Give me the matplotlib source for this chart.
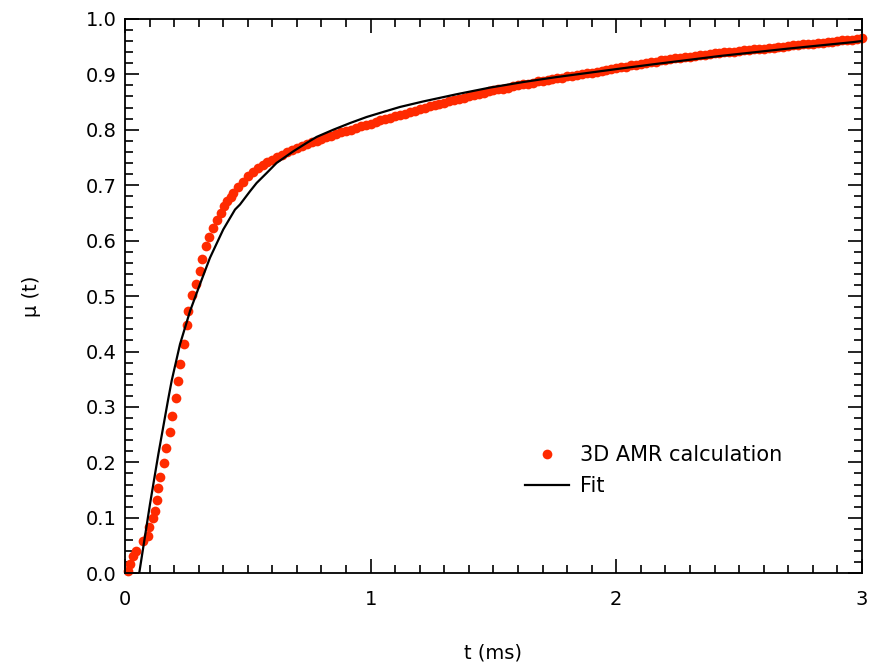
# mu(t) curve: 3D AMR calculation vs. fit

import numpy as np
import matplotlib
matplotlib.use("Agg")
import matplotlib.pyplot as plt
from matplotlib.ticker import MultipleLocator

# -------------------------------
# 1. Data
# -------------------------------
t_amr = [
    0.013, 0.020, 0.034, 0.043, 0.072, 0.092, 0.099, 0.113, 0.122, 0.129,
    0.136, 0.142, 0.160, 0.167, 0.183, 0.190, 0.206, 0.214, 0.224, 0.240,
    0.254, 0.258, 0.274, 0.288, 0.305, 0.312, 0.328, 0.343, 0.360, 0.373,
    0.389, 0.403, 0.416, 0.430,
    0.44, 0.46, 0.48, 0.50, 0.52, 0.54, 0.56, 0.58, 0.60, 0.62,
    0.64, 0.66, 0.68, 0.70, 0.72, 0.74, 0.76, 0.78, 0.80, 0.82,
    0.84, 0.86, 0.88, 0.90, 0.92, 0.94, 0.96, 0.98, 1.00, 1.02,
    1.04, 1.06, 1.08, 1.10, 1.12, 1.14, 1.16, 1.18, 1.20, 1.22,
    1.24, 1.26, 1.28, 1.30, 1.32, 1.34, 1.36, 1.38, 1.40, 1.42,
    1.44, 1.46, 1.48, 1.50, 1.52, 1.54, 1.56, 1.58, 1.60, 1.62,
    1.64, 1.66, 1.68, 1.70, 1.72, 1.74, 1.76, 1.78, 1.80, 1.82,
    1.84, 1.86, 1.88, 1.90, 1.92, 1.94, 1.96, 1.98, 2.00, 2.02,
    2.04, 2.06, 2.08, 2.10, 2.12, 2.14, 2.16, 2.18, 2.20, 2.22,
    2.24, 2.26, 2.28, 2.30, 2.32, 2.34, 2.36, 2.38, 2.40, 2.42,
    2.44, 2.46, 2.48, 2.50, 2.52, 2.54, 2.56, 2.58, 2.60, 2.62,
    2.64, 2.66, 2.68, 2.70, 2.72, 2.74, 2.76, 2.78, 2.80, 2.82,
    2.84, 2.86, 2.88, 2.90, 2.92, 2.94, 2.96, 2.98, 3.00,
]
mu_amr = [
    0.004, 0.016, 0.032, 0.041, 0.059, 0.068, 0.083, 0.100, 0.113, 0.133,
    0.153, 0.174, 0.198, 0.226, 0.255, 0.283, 0.317, 0.347, 0.378, 0.413,
    0.447, 0.473, 0.502, 0.521, 0.546, 0.566, 0.590, 0.606, 0.623, 0.638,
    0.650, 0.662, 0.671, 0.679,
    0.686, 0.697, 0.706, 0.716, 0.724, 0.731, 0.737, 0.742, 0.746, 0.751,
    0.755, 0.759, 0.763, 0.767, 0.771, 0.774, 0.777, 0.780, 0.783, 0.786,
    0.789, 0.792, 0.795, 0.797, 0.800, 0.803, 0.806, 0.809, 0.811, 0.814,
    0.817, 0.819, 0.821, 0.824, 0.826, 0.829, 0.832, 0.834, 0.837, 0.839,
    0.842, 0.844, 0.847, 0.849, 0.852, 0.854, 0.856, 0.858, 0.861, 0.863,
    0.865, 0.867, 0.869, 0.871, 0.873, 0.874, 0.876, 0.878, 0.880, 0.882,
    0.883, 0.885, 0.887, 0.888, 0.890, 0.891, 0.893, 0.894, 0.896, 0.897,
    0.899, 0.900, 0.902, 0.903, 0.905, 0.906, 0.908, 0.909, 0.911, 0.913,
    0.914, 0.916, 0.917, 0.919, 0.920, 0.922, 0.923, 0.925, 0.926, 0.927,
    0.929, 0.930, 0.931, 0.932, 0.933, 0.934, 0.935, 0.937, 0.938, 0.939,
    0.940, 0.940, 0.941, 0.942, 0.943, 0.944, 0.945, 0.946, 0.946, 0.947,
    0.948, 0.949, 0.950, 0.951, 0.952, 0.953, 0.954, 0.955, 0.955, 0.956,
    0.957, 0.958, 0.959, 0.960, 0.961, 0.961, 0.962, 0.963, 0.965,
]

t_fit = [0.058, 0.102, 0.136, 0.176, 0.190, 0.224, 0.265, 0.305, 0.346, 0.400,
         0.448, 0.468, 0.509, 0.536, 0.577, 0.617, 0.685, 0.739, 0.780, 0.848,
         0.916, 0.984, 1.051, 1.119, 1.214, 1.350, 1.486, 1.621, 1.757, 1.893,
         2.028, 2.150, 2.422, 2.693, 2.964, 3.000]
mu_fit = [0.000, 0.125, 0.215, 0.314, 0.347, 0.413, 0.473, 0.521, 0.569, 0.620,
          0.656, 0.665, 0.689, 0.704, 0.722, 0.740, 0.761, 0.776, 0.787, 0.800,
          0.812, 0.823, 0.832, 0.841, 0.851, 0.864, 0.876, 0.886, 0.895, 0.903,
          0.911, 0.918, 0.933, 0.946, 0.958, 0.960]

RED = "#ff2a00"

# -------------------------------
# 2. Plot
# -------------------------------
plt.rcParams["font.family"] = ["DejaVu Sans"]

fig = plt.figure(figsize=(8.72, 6.68), dpi=100)
ax = fig.add_axes([0.1433, 0.1418, 0.8452, 0.8300])

ax.plot(t_amr, mu_amr, "o", color=RED, markersize=7, markeredgewidth=0,
        label="3D AMR calculation", zorder=2, clip_on=False)
ax.plot(t_fit, mu_fit, "-", color="black", linewidth=1.6, label="Fit", zorder=3)

ax.set_xlim(0, 3)
ax.set_ylim(0, 1.0)
ax.xaxis.set_major_locator(MultipleLocator(1))
ax.xaxis.set_minor_locator(MultipleLocator(0.1))
ax.yaxis.set_major_locator(MultipleLocator(0.1))
ax.yaxis.set_minor_locator(MultipleLocator(0.02))
ax.yaxis.set_major_formatter(plt.FormatStrFormatter("%.1f"))

ax.tick_params(which="both", direction="in", top=True, right=True,
               width=1.2, labelsize=14, colors="black")
ax.tick_params(which="major", length=10)
ax.tick_params(which="minor", length=5.5)
ax.tick_params(axis="x", which="major", pad=12)
ax.tick_params(axis="y", which="major", pad=6)
for s in ax.spines.values():
    s.set_linewidth(1.3)

ax.set_xlabel("t (ms)", fontsize=14, labelpad=25)
ax.set_ylabel("\u03bc (t)", fontsize=14, labelpad=32)

ax.legend(loc="center left", bbox_to_anchor=(0.543, 0.185), frameon=False,
          fontsize=15, numpoints=1, handlelength=2.1, handletextpad=0.55,
          labelspacing=0.5, borderpad=0, borderaxespad=0)

plt.savefig("out.png", dpi=100)
